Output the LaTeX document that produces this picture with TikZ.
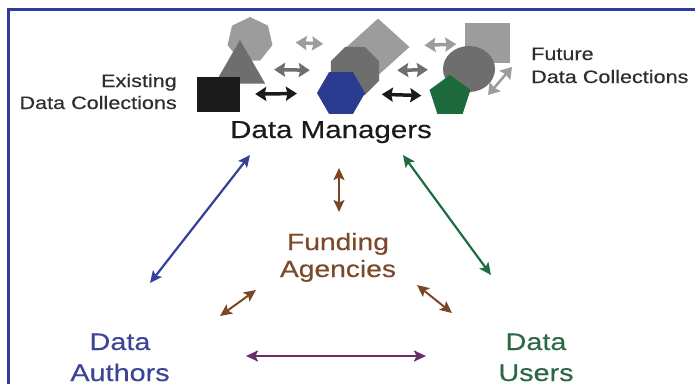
\documentclass[tikz,border=0pt]{standalone}
\usepackage{fontspec}
\setmainfont[FakeStretch=1.2,FakeBold=0.35]{Liberation Sans}
\usetikzlibrary{arrows.meta,shapes.geometric}

\definecolor{frameblue}{HTML}{2E3C9E}
\definecolor{lgray}{HTML}{9C9C9C}
\definecolor{dgray}{HTML}{6E6E6E}
\definecolor{nearblack}{HTML}{1A1A1A}
\definecolor{hexblue}{HTML}{2B3B8F}
\definecolor{pentgreen}{HTML}{1C6A3B}
\definecolor{arrblue}{HTML}{34409A}
\definecolor{arrgreen}{HTML}{1F6B42}
\definecolor{arrbrown}{HTML}{7B4622}
\definecolor{arrpurple}{HTML}{6B2C6B}
\definecolor{authblue}{HTML}{3B4596}
\definecolor{usergreen}{HTML}{2B6946}
\definecolor{fundbrown}{HTML}{7C4A2B}
\definecolor{capgray}{HTML}{2E2E2E}

\begin{document}
\begin{tikzpicture}[
  x=1pt, y=-1pt,
  lbl/.style={inner sep=0pt, align=center},
  poly/.style={regular polygon, inner sep=0pt, draw=none},
  block/.style={rectangle, inner sep=0pt, draw=none},
  link/.style={{Stealth[length=12pt,width=11pt,inset=2.5pt]}-{Stealth[length=12pt,width=11pt,inset=2.5pt]}, line width=2.2pt},
  hop/.style={{Stealth[length=11pt,width=14pt,inset=1.5pt]}-{Stealth[length=11pt,width=14pt,inset=1.5pt]}, line width=3.5pt}
]
\useasboundingbox (0,0) rectangle (695,384);
\fill[white] (0,0) rectangle (695,384);
\draw[frameblue, line width=3pt] (8,384) -- (8,9.5) -- (695,9.5);

% data collections
\node[poly, regular polygon sides=7, minimum size=46pt, fill=lgray] (hepta) at (250,40) {};
\node[poly, regular polygon sides=3, minimum size=58pt, fill=dgray] (tri) at (240,69) {};
\node[block, minimum width=43pt, minimum height=35pt, fill=nearblack] (blacksq) at (218.5,94.5) {};
\node[diamond, minimum width=63pt, minimum height=57pt, inner sep=0pt, fill=lgray] (diam) at (378,47) {};
\node[poly, regular polygon sides=8, minimum size=52pt, fill=dgray] (octa) at (355,71) {};
\node[poly, regular polygon sides=6, minimum size=48pt, fill=hexblue] (hexa) at (341,93) {};
\node[block, minimum width=45pt, minimum height=40pt, fill=lgray] (gsq) at (487,43) {};
\node[ellipse, minimum width=52pt, minimum height=46pt, inner sep=0pt, fill=dgray] (circ) at (469,69) {};
\node[poly, regular polygon sides=5, minimum size=43pt, fill=pentgreen] (penta) at (450,96.5) {};

\draw[hop, lgray, shorten <=24pt, shorten >=25pt] (hepta) -- (diam);
\draw[hop, lgray, shorten <=16pt, shorten >=8pt] (diam) -- (gsq);
\draw[hop, dgray, shorten <=17pt, shorten >=21pt] (tri) -- (octa);
\draw[hop, dgray, shorten <=18pt, shorten >=15pt] (octa) -- (circ);
\draw[hop, nearblack, shorten <=15pt, shorten >=20pt] (blacksq) -- (hexa);
\draw[hop, nearblack, shorten <=17pt, shorten >=10pt] (hexa) -- (penta);
\draw[hop, lgray, line width=2.5pt] ([shift={(19,26)}]circ.center) -- ([shift={(43,-2)}]circ.center);

% labels
\node[lbl, align=right, anchor=base east, font={\fontsize{18pt}{22pt}\selectfont}, text=capgray] (exist) at (177,109) {Existing\\Data Collections};
\node[lbl, align=left, anchor=base west, font={\fontsize{18pt}{23pt}\selectfont}, text=capgray] (future) at (531,83) {Future\\Data Collections};
\node[lbl, anchor=base, font={\fontsize{24.6pt}{28pt}\selectfont}, text=nearblack] (mgr) at (331,138) {Data Managers};
\node[lbl, anchor=base, font={\fontsize{23.5pt}{27pt}\selectfont}, text=fundbrown] (fund) at (338,277) {Funding\\Agencies};
\node[lbl, anchor=base, font={\fontsize{24pt}{31pt}\selectfont}, text=authblue] (auth) at (120,381) {Data\\Authors};
\node[lbl, anchor=base, font={\fontsize{24pt}{31pt}\selectfont}, text=usergreen] (users) at (536,381) {Data\\Users};

% relations
\draw[link, arrblue] ([shift={(-81,17)}]mgr.base) -- ([shift={(30,-98)}]auth.base);
\draw[link, arrgreen] ([shift={(72,17)}]mgr.base) -- ([shift={(-45,-106)}]users.base);
\draw[link, arrbrown, line width=2pt] ([shift={(8,30)}]mgr.base) -- ([shift={(1,-65)}]fund.base);
\draw[link, arrbrown, line width=2pt] ([shift={(-82,13)}]fund.base) -- ([shift={(100,-65)}]auth.base);
\draw[link, arrbrown, line width=2pt] ([shift={(79,8)}]fund.base) -- ([shift={(-84,-68)}]users.base);
\draw[link, arrpurple] ([shift={(126,-25)}]auth.base) -- ([shift={(-110,-25)}]users.base);
\end{tikzpicture}
\end{document}
